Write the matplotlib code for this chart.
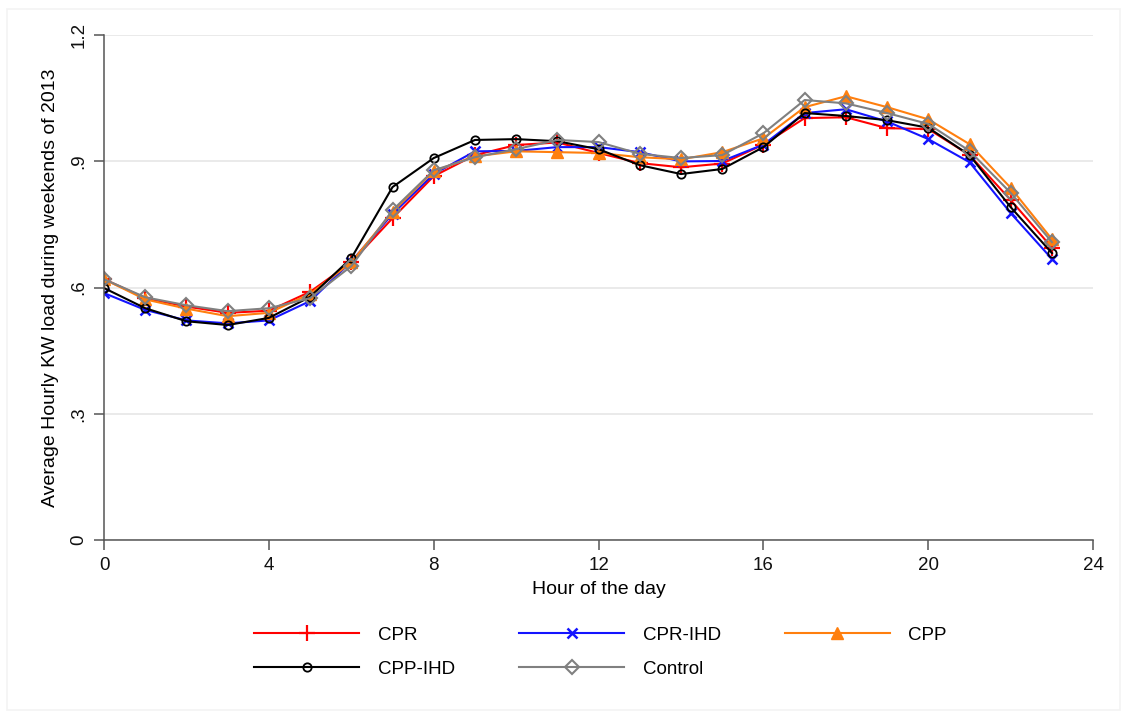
import matplotlib
matplotlib.use("Agg")
import matplotlib.pyplot as plt
from matplotlib.patches import Rectangle

plt.rcParams['font.family'] = ['Liberation Sans', 'DejaVu Sans']

hours = list(range(24))

cpr = [0.620, 0.575, 0.555, 0.540, 0.545, 0.590, 0.660, 0.765, 0.865, 0.915,
       0.939, 0.945, 0.920, 0.896, 0.886, 0.895, 0.940, 1.003, 1.005, 0.979,
       0.977, 0.915, 0.808, 0.695]
cpr_ihd = [0.587, 0.547, 0.522, 0.515, 0.522, 0.568, 0.662, 0.775, 0.870, 0.924,
           0.925, 0.934, 0.934, 0.922, 0.900, 0.901, 0.940, 1.015, 1.024, 0.995,
           0.953, 0.898, 0.777, 0.668]
cpp = [0.620, 0.572, 0.550, 0.532, 0.540, 0.585, 0.660, 0.780, 0.877, 0.912,
       0.924, 0.922, 0.920, 0.910, 0.905, 0.922, 0.955, 1.029, 1.055, 1.029,
       1.000, 0.941, 0.837, 0.715]
cpp_ihd = [0.599, 0.551, 0.520, 0.511, 0.528, 0.578, 0.670, 0.839, 0.908, 0.951,
           0.953, 0.948, 0.929, 0.891, 0.870, 0.882, 0.934, 1.015, 1.008, 0.998,
           0.980, 0.915, 0.791, 0.682]
control = [0.620, 0.577, 0.558, 0.544, 0.551, 0.575, 0.651, 0.784, 0.879, 0.910,
           0.929, 0.951, 0.946, 0.918, 0.908, 0.915, 0.967, 1.046, 1.038, 1.015,
           0.989, 0.925, 0.825, 0.708]

x_ticks = [0, 4, 8, 12, 16, 20, 24]
y_ticks = [0, 0.3, 0.6, 0.9, 1.2]
y_tick_labels = ["0", ".3", ".6", ".9", "1.2"]

series = [
    ("CPR", cpr, dict(color="#ff0000", marker="+", markersize=11, markeredgewidth=1.6)),
    ("CPR-IHD", cpr_ihd, dict(color="#1414ff", marker="x", markersize=7, markeredgewidth=1.8)),
    ("CPP", cpp, dict(color="#ff7f0e", marker="^", markersize=8, markeredgewidth=1.0)),
    ("CPP-IHD", cpp_ihd, dict(color="#000000", marker="o", markersize=6,
                              markerfacecolor="none", markeredgewidth=1.3)),
    ("Control", control, dict(color="#808080", marker="D", markersize=7,
                              markerfacecolor="none", markeredgewidth=1.5)),
]

fig = plt.figure(figsize=(11.27, 7.19), dpi=100)
fig.patch.set_facecolor("white")
fig.patches.append(Rectangle((0.006, 0.012), 0.988, 0.975, transform=fig.transFigure,
                             fill=False, edgecolor="#f3f3f3", linewidth=1.2))

ax = fig.add_axes([0.0923, 0.249, 0.8777, 0.702])

handles = {}
for name, vals, style in series:
    h, = ax.plot(hours, vals, linewidth=1.5, label=name, **style)
    handles[name] = h

ax.set_xlim(0, 24)
ax.set_ylim(0, 1.2)
ax.set_xticks(x_ticks)
ax.set_yticks(y_ticks)
ax.set_yticklabels(y_tick_labels, rotation=90, va="center")

ax.grid(axis="y", color="#e8e8e8", linewidth=1.3)
ax.set_axisbelow(True)
for side in ("top", "right"):
    ax.spines[side].set_visible(False)
for side in ("left", "bottom"):
    ax.spines[side].set_color("#555555")
    ax.spines[side].set_linewidth(1.1)

ax.tick_params(axis="both", direction="out", length=7, width=1.1, color="#555555",
               labelsize=13.5, labelcolor="#111111", pad=5)
ax.set_xlabel("Hour of the day", fontsize=14, labelpad=5)
ax.set_ylabel("Average Hourly KW load during weekends of 2013", fontsize=14, labelpad=8)

# legend filled column by column, so this order reads row by row
legend_order = ["CPR", "CPP-IHD", "CPR-IHD", "Control", "CPP"]
fig.legend(handles=[handles[n] for n in legend_order], loc="center",
           bbox_to_anchor=(0.533, 0.093), ncol=3, frameon=False, fontsize=13.5,
           handlelength=5.6, handletextpad=1.0, columnspacing=3.4, labelspacing=0.9)

fig.savefig("out.png", dpi=100)
